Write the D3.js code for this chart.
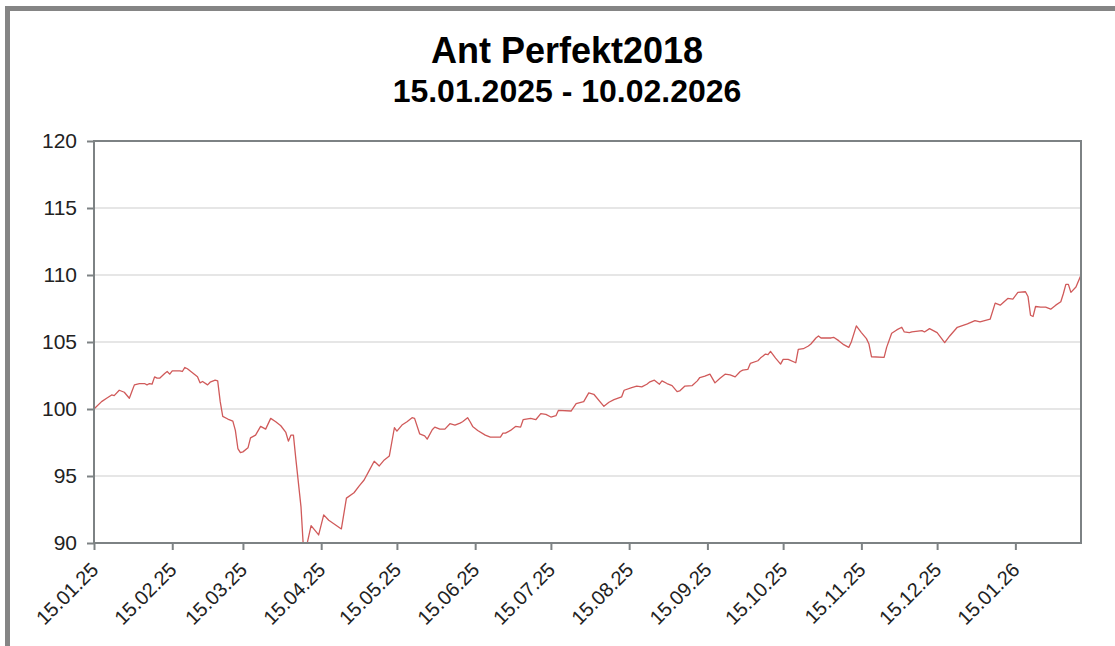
<!DOCTYPE html>
<html>
<head>
<meta charset="utf-8">
<script src="https://cdnjs.cloudflare.com/ajax/libs/d3/7.8.5/d3.min.js"></script>
<style>
  html, body { margin: 0; padding: 0; background: #fff; }
  svg { display: block; font-family: "Liberation Sans", Arial, sans-serif; }
</style>
</head>
<body>
<svg id="chart" width="1115" height="646"></svg>
<script>
const titleText = "Ant Perfekt2018";
const subtitleText = "15.01.2025 - 10.02.2026";
const xDomain = ["2025-01-15", "2026-02-10"];
const yDomain = [90, 120];
const yTickValues = [90, 95, 100, 105, 110, 115, 120];
const xTickLabels = ["15.01.25","15.02.25","15.03.25","15.04.25","15.05.25","15.06.25","15.07.25","15.08.25","15.09.25","15.10.25","15.11.25","15.12.25","15.01.26"];

const dates = [
"2025-01-15","2025-01-18","2025-01-20","2025-01-22","2025-01-23","2025-01-25","2025-01-27","2025-01-29","2025-01-30","2025-01-31",
"2025-02-02","2025-02-04","2025-02-05","2025-02-06","2025-02-07","2025-02-08","2025-02-09","2025-02-10","2025-02-12","2025-02-13",
"2025-02-14","2025-02-15","2025-02-16","2025-02-18","2025-02-19","2025-02-20","2025-02-21","2025-02-23","2025-02-25","2025-02-26",
"2025-02-27","2025-03-01","2025-03-02","2025-03-04","2025-03-05","2025-03-06","2025-03-07","2025-03-09","2025-03-11","2025-03-12",
"2025-03-13","2025-03-14","2025-03-15","2025-03-17","2025-03-18","2025-03-20","2025-03-22","2025-03-24","2025-03-26","2025-03-28",
"2025-03-30","2025-04-01","2025-04-02","2025-04-03","2025-04-04","2025-04-05","2025-04-07","2025-04-08","2025-04-09","2025-04-11",
"2025-04-14","2025-04-16","2025-04-18","2025-04-23","2025-04-25","2025-04-28","2025-04-30","2025-05-02","2025-05-04","2025-05-06",
"2025-05-08","2025-05-10","2025-05-12","2025-05-14","2025-05-15","2025-05-17","2025-05-19","2025-05-21","2025-05-22","2025-05-24",
"2025-05-26","2025-05-27","2025-05-29","2025-05-30","2025-06-01","2025-06-03","2025-06-05","2025-06-07","2025-06-09","2025-06-10",
"2025-06-12","2025-06-13","2025-06-14","2025-06-16","2025-06-19","2025-06-21","2025-06-25","2025-06-26","2025-06-27","2025-06-29",
"2025-07-01","2025-07-03","2025-07-04","2025-07-07","2025-07-09","2025-07-11","2025-07-13","2025-07-15","2025-07-17","2025-07-18",
"2025-07-23","2025-07-25","2025-07-28","2025-07-30","2025-08-01","2025-08-05","2025-08-07","2025-08-09","2025-08-12","2025-08-13",
"2025-08-16","2025-08-18","2025-08-20","2025-08-22","2025-08-23","2025-08-25","2025-08-27","2025-08-28","2025-08-30","2025-09-01",
"2025-09-03","2025-09-04","2025-09-06","2025-09-09","2025-09-11","2025-09-12","2025-09-14","2025-09-16","2025-09-18","2025-09-20",
"2025-09-22","2025-09-24","2025-09-26","2025-09-28","2025-09-29","2025-10-01","2025-10-02","2025-10-05","2025-10-06","2025-10-08",
"2025-10-09","2025-10-10","2025-10-12","2025-10-14","2025-10-15","2025-10-17","2025-10-20","2025-10-21","2025-10-23","2025-10-25",
"2025-10-26","2025-10-28","2025-10-29","2025-10-30","2025-11-03","2025-11-04","2025-11-06","2025-11-08","2025-11-10","2025-11-11",
"2025-11-13","2025-11-15","2025-11-17","2025-11-18","2025-11-19","2025-11-24","2025-11-25","2025-11-27","2025-11-29","2025-12-01",
"2025-12-02","2025-12-04","2025-12-05","2025-12-09","2025-12-10","2025-12-12","2025-12-15","2025-12-18","2025-12-20","2025-12-23",
"2025-12-27","2025-12-30","2026-01-01","2026-01-05","2026-01-07","2026-01-09","2026-01-12","2026-01-14","2026-01-16","2026-01-19",
"2026-01-20","2026-01-21","2026-01-22","2026-01-23","2026-01-25","2026-01-27","2026-01-29","2026-01-31","2026-02-02","2026-02-03",
"2026-02-04","2026-02-05","2026-02-06","2026-02-08","2026-02-10"
];
const values = [
100.0,100.55,100.8,101.05,101.0,101.4,101.25,100.8,101.3,101.8,
101.9,101.9,101.8,101.9,101.85,102.4,102.3,102.3,102.65,102.8,
102.6,102.85,102.85,102.85,102.8,103.1,103.0,102.7,102.4,101.95,
102.05,101.8,102.0,102.15,102.1,100.55,99.45,99.25,99.1,98.4,
97.05,96.75,96.8,97.1,97.85,98.05,98.7,98.5,99.3,99.05,
98.75,98.25,97.6,98.05,98.05,96.2,92.7,89.5,89.6,91.3,
90.6,92.1,91.7,91.05,93.35,93.75,94.25,94.7,95.4,96.1,
95.75,96.2,96.5,98.6,98.35,98.8,99.05,99.35,99.3,98.15,
98.0,97.75,98.45,98.65,98.5,98.5,98.9,98.8,98.95,99.05,
99.35,99.05,98.7,98.4,98.05,97.9,97.9,98.2,98.2,98.4,
98.7,98.65,99.2,99.3,99.2,99.65,99.6,99.4,99.5,99.9,
99.85,100.4,100.55,101.2,101.1,100.2,100.5,100.7,100.9,101.4,
101.6,101.7,101.65,101.85,102.0,102.15,101.85,102.1,101.9,101.75,
101.3,101.35,101.7,101.75,102.1,102.35,102.45,102.6,101.95,102.3,
102.6,102.55,102.4,102.8,102.9,102.95,103.4,103.6,103.8,104.1,
104.05,104.3,103.8,103.35,103.7,103.7,103.45,104.45,104.5,104.7,
104.85,105.3,105.45,105.3,105.3,105.35,105.1,104.8,104.6,105.0,
106.2,105.7,105.25,104.85,103.9,103.85,104.6,105.65,105.9,106.1,
105.75,105.7,105.75,105.85,105.75,106.0,105.7,104.95,105.45,106.1,
106.35,106.6,106.5,106.7,107.9,107.75,108.25,108.2,108.7,108.75,
108.4,107.0,106.9,107.65,107.6,107.6,107.45,107.75,108.0,108.6,
109.3,109.3,108.7,109.1,110.0
];

const parseISO = d3.timeParse("%Y-%m-%d");
const parseTick = d3.timeParse("%d.%m.%y");
const fmtTick = d3.timeFormat("%d.%m.%y");
const data = dates.map((d, i) => ({ date: parseISO(d), value: values[i] }));

const plot = { left: 94, right: 1081, top: 141, bottom: 543 };
const svg = d3.select("#chart");

// outer frame
svg.append("rect")
  .attr("x", 7.5).attr("y", 8.5)
  .attr("width", 1200).attr("height", 800)
  .attr("fill", "#fff")
  .attr("stroke", "#858585").attr("stroke-width", 5);

const x = d3.scaleTime().domain(xDomain.map(parseISO)).range([plot.left, plot.right]);
const y = d3.scaleLinear().domain(yDomain).range([plot.bottom, plot.top]);

// gridlines
svg.append("g").selectAll("line")
  .data(yTickValues)
  .join("line")
  .attr("x1", plot.left).attr("x2", plot.right)
  .attr("y1", d => y(d)).attr("y2", d => y(d))
  .attr("stroke", "#e6e6e6").attr("stroke-width", 2);

// clip
svg.append("clipPath").attr("id", "clip")
  .append("rect")
  .attr("x", plot.left).attr("y", plot.top)
  .attr("width", plot.right - plot.left).attr("height", plot.bottom - plot.top);

// line
const line = d3.line().x(d => x(d.date)).y(d => y(d.value));
svg.append("path")
  .datum(data)
  .attr("clip-path", "url(#clip)")
  .attr("fill", "none")
  .attr("stroke", "#d05a5a")
  .attr("stroke-width", 1.3)
  .attr("stroke-linejoin", "round")
  .attr("d", line);

// plot frame
svg.append("rect")
  .attr("x", plot.left).attr("y", plot.top)
  .attr("width", plot.right - plot.left).attr("height", plot.bottom - plot.top)
  .attr("fill", "none").attr("stroke", "#7d8284").attr("stroke-width", 2);

// y axis
const yAxis = d3.axisLeft(y).tickValues(yTickValues).tickSize(7).tickPadding(10).tickFormat(d3.format("d"));
const gy = svg.append("g").attr("transform", `translate(${plot.left},0)`).call(yAxis);
gy.select(".domain").remove();
gy.selectAll(".tick line").attr("stroke", "#7d8284").attr("stroke-width", 2);
gy.selectAll(".tick text").attr("font-size", 21).attr("fill", "#222").attr("font-family", "Liberation Sans, Arial, sans-serif");

// x axis
const xTicks = xTickLabels.map(parseTick);
const xAxis = d3.axisBottom(x).tickValues(xTicks).tickSize(7).tickFormat(fmtTick);
const gx = svg.append("g").attr("transform", `translate(0,${plot.bottom})`).call(xAxis);
gx.select(".domain").remove();
gx.selectAll(".tick line").attr("stroke", "#7d8284").attr("stroke-width", 2);
gx.selectAll(".tick text")
  .attr("font-size", 20).attr("fill", "#222").attr("font-family", "Liberation Sans, Arial, sans-serif")
  .attr("text-anchor", "end")
  .attr("y", 0)
  .attr("transform", "translate(-5,18) rotate(-45)")
  .attr("dy", "0.71em");

// titles
svg.append("text")
  .attr("x", 567).attr("y", 63)
  .attr("text-anchor", "middle")
  .attr("font-size", 36).attr("font-weight", "bold").attr("fill", "#000")
  .text(titleText);
svg.append("text")
  .attr("x", 567).attr("y", 102)
  .attr("text-anchor", "middle")
  .attr("font-size", 32).attr("font-weight", "bold").attr("fill", "#000")
  .text(subtitleText);
</script>
</body>
</html>
